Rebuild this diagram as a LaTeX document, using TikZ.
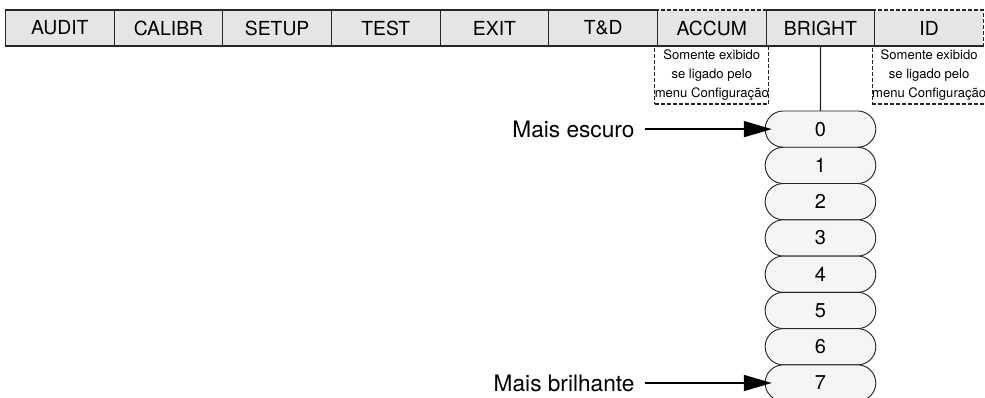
\documentclass[tikz,border=0pt]{standalone}
\usepackage{fontspec}
\setmainfont{TeX Gyre Heros}
\usetikzlibrary{arrows.meta,
                positioning,
                shapes.misc}

\begin{document}
\begin{tikzpicture}[
node distance = 0pt and 0pt,
            > = {Triangle[length=21pt, width=12pt]},
every node/.append style = {outer sep=0pt},
     M/.style = {draw=black!85, line width=0.9pt, fill=black!10,
                 minimum width=81.5pt, minimum height=27pt, inner sep=0pt,
                 font=\fontsize{14.5}{16}\selectfont},
     D/.style = {M, dash pattern=on 3pt off 1.5pt},
     C/.style = {draw=black!85, line width=0.8pt, dash pattern=on 3pt off 1.5pt,
                 minimum width=81.5pt, minimum height=43.5pt, inner sep=0pt,
                 align=center, font=\fontsize{9.8}{14.5}\selectfont},
     P/.style = {rounded rectangle, draw=black!85, line width=0.7pt, fill=black!4,
                 minimum width=83pt, minimum height=27.2pt, inner sep=0pt,
                 font=\fontsize{15}{16}\selectfont},
     L/.style = {inner sep=0pt, font=\fontsize{17}{18}\selectfont}
                    ]
\useasboundingbox (0,0) rectangle (738.75pt,-298.5pt);
% menu bar
\node (audit)  [M, anchor=north west] at (4.1pt,-7.5pt) {AUDIT};
\node (calibr) [M, right=of audit]  {CALIBR};
\node (setup)  [M, right=of calibr] {SETUP};
\node (test)   [M, right=of setup]  {TEST};
\node (exit)   [M, right=of test]   {EXIT};
\node (td)     [M, right=of exit]   {T\&D};
\node (accum)  [D, right=of td]     {ACCUM};
\node (bright) [M, right=of accum]  {BRIGHT};
\node (id)     [D, right=of bright] {ID};
\draw[draw=black!85, line width=0.9pt] (td.north east) -- (td.south east);
%
\node (accnote) [C, below=of accum] {Somente exibido\\se ligado pelo\\menu Configuração};
\node (idnote)  [C, below=of id]    {Somente exibido\\se ligado pelo\\menu Configuração};
% levels
\node (p0) [P, below=48.75pt of bright] {0};
\node (p1) [P, below=of p0] {1};
\node (p2) [P, below=of p1] {2};
\node (p3) [P, below=of p2] {3};
\node (p4) [P, below=of p3] {4};
\node (p5) [P, below=of p4] {5};
\node (p6) [P, below=of p5] {6};
\node (p7) [P, below=of p6] {7};
\draw[draw=black!85, line width=0.8pt] (bright) -- (p0);
%
\node (dark)  [L, left=98pt of p0] {Mais escuro};
\node (light) [L, left=98pt of p7] {Mais brilhante};
\draw[->, line width=1.2pt, shorten <=8pt, shorten >=-5pt] (dark) -- (p0);
\draw[->, line width=1.2pt, shorten <=8pt, shorten >=-5pt] (light) -- (p7);
\end{tikzpicture}
\end{document}
